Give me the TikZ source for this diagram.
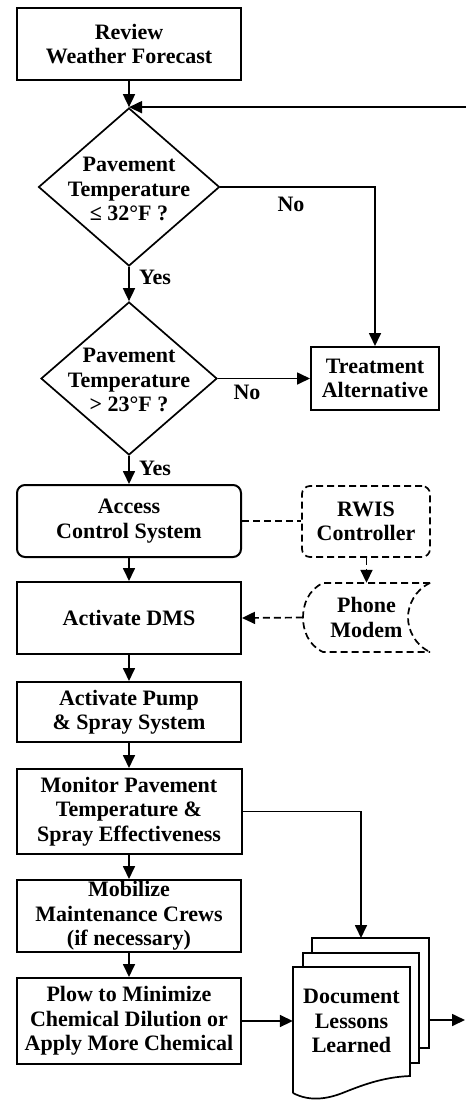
\documentclass[tikz,border=0pt]{standalone}
\usepackage{fontspec}
\setmainfont{Liberation Serif}
\usetikzlibrary{shapes.geometric,arrows.meta}
\begin{document}
\begin{tikzpicture}[x=1pt,y=-1pt,
  every node/.style={font=\fontsize{22}{24.5}\selectfont\bfseries, align=center, inner sep=0pt},
  proc/.style={draw, line width=2pt, minimum width=224pt},
  dec/.style={draw, shape=diamond, line width=1.7pt},
  arr/.style={-{Triangle[length=13pt,width=12pt]}, line width=1.7pt},
  ln/.style={line width=1.7pt},
  dsh/.style={dash pattern=on 7pt off 4pt, line width=1.7pt},
  lbl/.style={font=\fontsize{22}{24.5}\selectfont\bfseries}
]
\useasboundingbox (0,0) rectangle (466,1100);

% main column
\node[proc, minimum height=72pt] (rev) at (129,44) {Review\\Weather Forecast};
\node[dec, minimum width=181pt, minimum height=158pt] (d1) at (129,187) {};
\node (d1t) at (129,189) {Pavement\\Temperature\\≤ 32°F ?};
\node[dec, minimum width=176pt, minimum height=153pt] (d2) at (129,378.5) {};
\node (d2t) at (129,380) {Pavement\\Temperature\\> 23°F ?};
\node[proc, minimum width=128pt, minimum height=63pt] (treat) at (375,378.5) {Treatment\\Alternative};
\node[proc, rounded corners=8pt, minimum height=72pt] (acc) at (129,521) {Access\\Control System};
\node[draw, dsh, rounded corners=8pt, minimum width=128pt, minimum height=71pt] (rwis) at (366,521.5) {RWIS\\Controller};
\node[proc, minimum height=72pt] (dms) at (129,618) {Activate DMS};
\node[minimum width=127pt, minimum height=69pt] (phone) at (366.5,617.5) {Phone\\Modem};
\node[proc, minimum height=60pt] (pump) at (129,712) {Activate Pump\\\& Spray System};
\node[proc, minimum width=225pt, minimum height=85pt] (mon) at (129,811.5) {Monitor Pavement\\Temperature \&\\Spray Effectiveness};
\node[proc, minimum height=72pt] (mob) at (129,916) {Mobilize\\Maintenance Crews\\(if necessary)};
\node[proc, minimum height=86pt] (plow) at (129,1021) {Plow to Minimize\\Chemical Dilution or\\Apply More Chemical};

% phone modem shape (stored data)
\draw[dsh] (430,583) -- (323,583) .. controls (308,590) and (303,605) .. (303,617.5)
  .. controls (303,630) and (308,645) .. (323,652) -- (430,652);
\draw[dsh] (430,583) .. controls (415,590) and (408,605) .. (408,617.5)
  .. controls (408,630) and (415,645) .. (430,652);

% document stack
\draw[ln] (312,953) -- (312,938) -- (429,938) -- (429,1048) -- (419,1048);
\draw[ln] (303,967) -- (303,953) -- (419,953) -- (419,1063) -- (410,1063);
\draw[ln] (293,1093) -- (293,967) -- (410,967) -- (410,1076)
  .. controls (385,1077) and (365,1084) .. (345,1092)
  .. controls (328,1099) and (310,1102) .. (293,1093);
\node[minimum width=117pt, minimum height=80pt] (doc) at (351.5,1021) {Document\\Lessons\\Learned};

% coordinates
\coordinate (loopx) at (466,0);
\coordinate (backtop) at (361,938);
\coordinate (docout) at (429,1020);
\coordinate (docend) at (465,1020);

% connectors
\draw[arr] (rev.south) -- (d1.north);
\draw[arr] (d1.north -| loopx) -- (d1.north);
\draw[arr] (d1.east) -| (treat.north);
\draw[arr] (d1.south) -- (d2.north);
\draw[arr] (d2.east) -- (treat.west);
\draw[arr] (d2.south) -- (acc.north);
\draw[dsh] (acc.east) -- (acc.east -| rwis.west);
\draw[arr, dash pattern=on 7pt off 4pt] (rwis.south -| phone.north) -- (phone.north);
\draw[arr, dash pattern=on 7pt off 4pt] (phone.west) -- (dms.east);
\draw[arr] (acc.south) -- (dms.north);
\draw[arr] (dms.south) -- (pump.north);
\draw[arr] (pump.south) -- (mon.north);
\draw[arr] (mon.south) -- (mob.north);
\draw[arr] (mob.south) -- (plow.north);
\draw[arr] (mon.east) -| (backtop);
\draw[arr] (plow.east) -- (plow.east -| doc.west);
\draw[arr] (docout) -- (docend);

% labels
\node[lbl] (no1) at (291,204) {No};
\node[lbl] (yes1) at (155,277) {Yes};
\node[lbl] (no2) at (247,392) {No};
\node[lbl] (yes2) at (155,468) {Yes};
\end{tikzpicture}
\end{document}
